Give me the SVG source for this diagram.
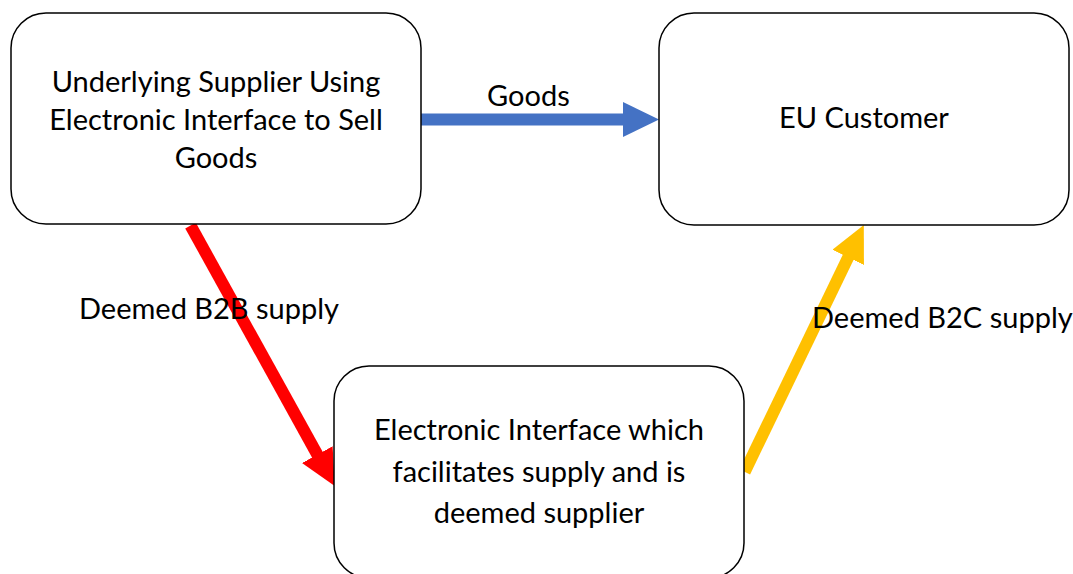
<svg xmlns="http://www.w3.org/2000/svg" width="1073" height="574" viewBox="0 0 1073 574">
  <style>
    .box { fill: #ffffff; stroke: #000000; stroke-width: 1.5; }
    .txt { font-family: Lato, "Open Sans", "Liberation Sans", sans-serif; font-size: 29px; fill: #000000; text-anchor: middle; }
    .lbl { font-family: Lato, "Open Sans", "Liberation Sans", sans-serif; font-size: 29px; fill: #000000; }
    .shaft { fill: none; stroke-width: 12; stroke-linecap: butt; }
  </style>
  <defs>
    <marker id="headBlue" viewBox="0 0 36 35" refX="1" refY="17.5" markerWidth="36" markerHeight="35" markerUnits="userSpaceOnUse" orient="auto">
      <path d="M0,0 L36,17.5 L0,35 Z" fill="#4472C4"/>
    </marker>
    <marker id="headRed" viewBox="0 0 36 35" refX="1" refY="17.5" markerWidth="36" markerHeight="35" markerUnits="userSpaceOnUse" orient="auto">
      <path d="M0,0 L36,17.5 L0,35 Z" fill="#FF0000"/>
    </marker>
    <marker id="headYellow" viewBox="0 0 36 35" refX="1" refY="17.5" markerWidth="36" markerHeight="35" markerUnits="userSpaceOnUse" orient="auto">
      <path d="M0,0 L36,17.5 L0,35 Z" fill="#FFC000"/>
    </marker>
  </defs>

  <!-- connectors -->
  <g id="connectors">
    <line class="shaft" x1="421" y1="119.5" x2="624" y2="119.5" stroke="#4472C4" marker-end="url(#headBlue)"/>
    <line class="shaft" x1="190.5" y1="225.5" x2="317.8" y2="455.5" stroke="#FF0000" marker-end="url(#headRed)"/>
    <line class="shaft" x1="744.7" y1="471.8" x2="848.6" y2="256.5" stroke="#FFC000" marker-end="url(#headYellow)"/>
    <text class="lbl" x="487" y="106">Goods</text>
    <text class="lbl" x="79" y="319">Deemed B2B supply</text>
    <text class="lbl" x="812" y="328">Deemed B2C supply</text>
  </g>

  <!-- nodes -->
  <g id="node-supplier">
    <rect class="box" x="11" y="13" width="410" height="211" rx="35" ry="35"/>
    <text class="txt" x="216" y="92">Underlying Supplier Using</text>
    <text class="txt" x="216" y="130">Electronic Interface to Sell</text>
    <text class="txt" x="216" y="168">Goods</text>
  </g>
  <g id="node-customer">
    <rect class="box" x="659" y="13" width="410" height="212" rx="35" ry="35"/>
    <text class="txt" x="864" y="128">EU Customer</text>
  </g>
  <g id="node-interface">
    <rect class="box" x="334" y="366" width="410" height="212" rx="35" ry="35"/>
    <text class="txt" x="539" y="440">Electronic Interface which</text>
    <text class="txt" x="539" y="481.5">facilitates supply and is</text>
    <text class="txt" x="539" y="522.5">deemed supplier</text>
  </g>
</svg>
